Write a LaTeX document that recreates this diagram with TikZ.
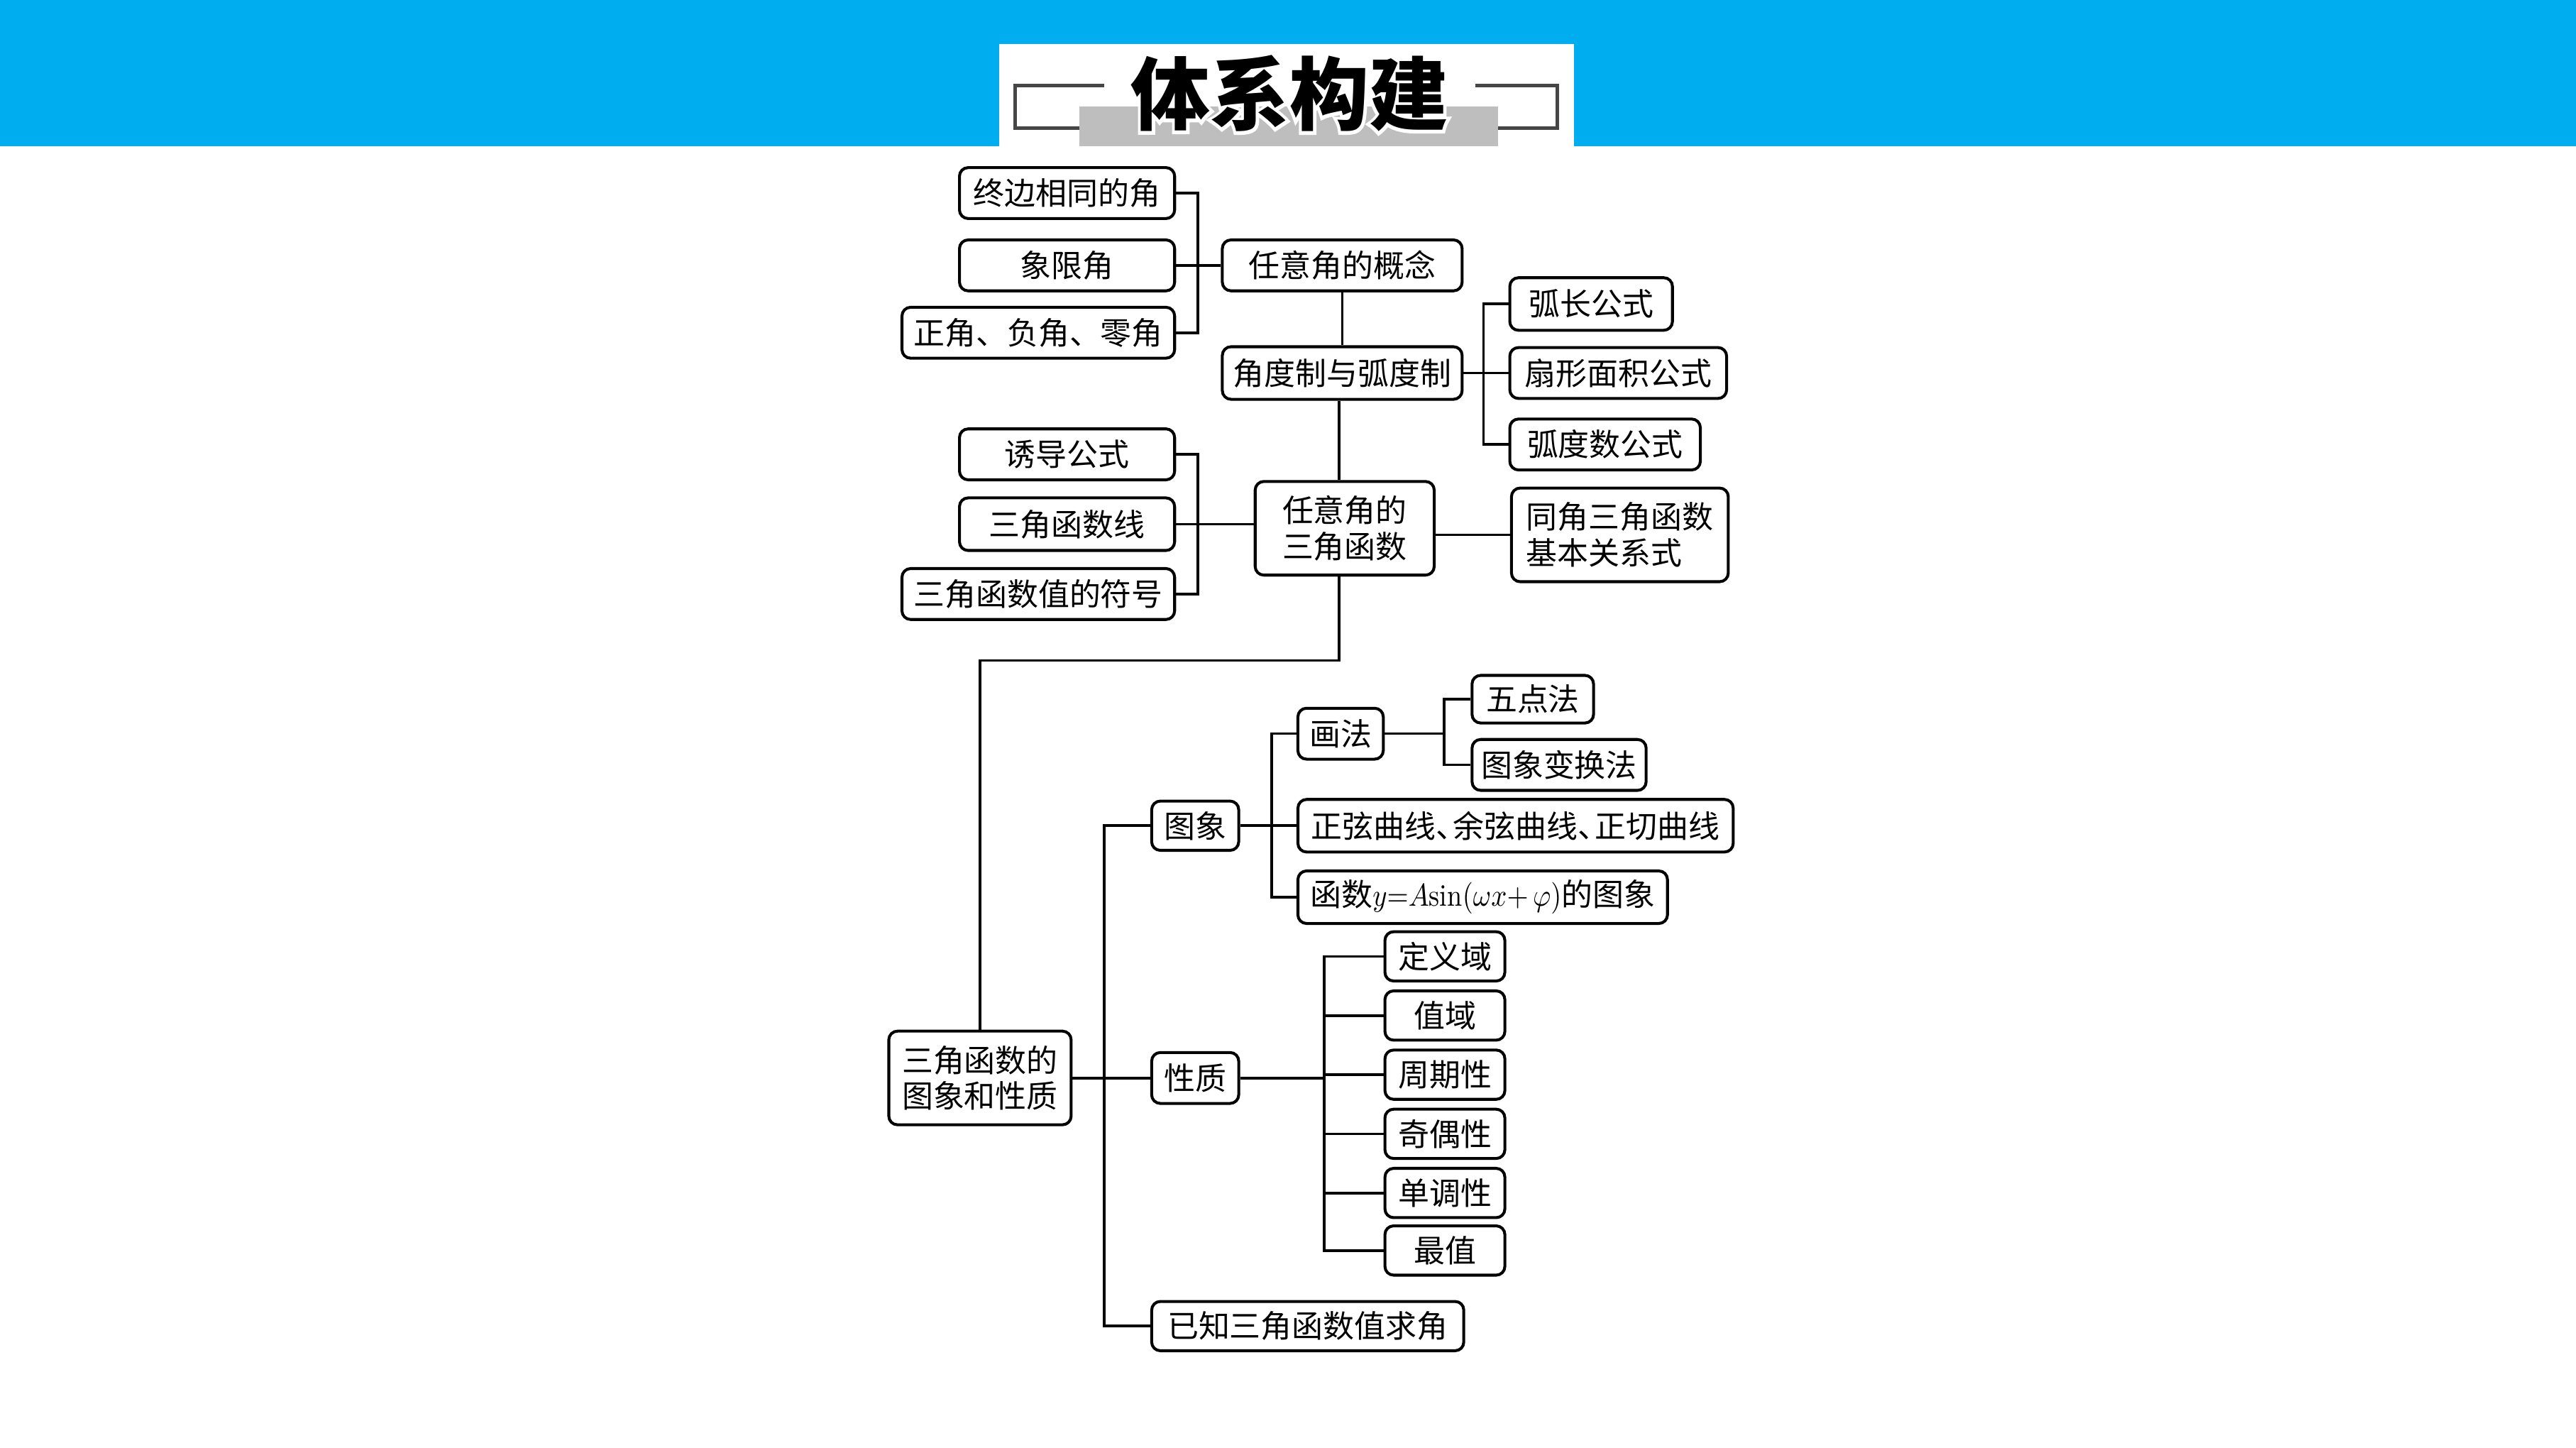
\documentclass[tikz,border=0pt]{standalone}
\usepackage{fontspec}
\newfontfamily\cjk{Noto Sans CJK SC}
\newfontfamily\cjkhalo[FakeBold=8]{Noto Sans CJK SC}
\definecolor{hdrblue}{RGB}{0,173,239}
\definecolor{bargray}{RGB}{190,190,190}
\definecolor{brk}{RGB}{70,70,70}
\begin{document}
\begin{tikzpicture}[x=0.02cm,y=-0.02cm,
  box/.style={draw=black, line width=1pt, rounded corners=3pt, inner sep=0pt,
    font=\cjk\fontsize{10.8}{12.5}\selectfont, align=center},
  conn/.style={line width=0.9pt, black},
  titleline/.style={line width=1.1pt, brk}]
\useasboundingbox (0,0) rectangle (1568,881);
\fill[white] (0,0) rectangle (1568,881);
% header
\fill[hdrblue] (0,0) rectangle (1568,89);
\fill[white] (608,27) rectangle (958,89);
\fill[bargray] (657,65) rectangle (912,89);
\draw[titleline] (672,52) -- (618,52) -- (618,78) -- (657,78);
\draw[titleline] (898,52) -- (948,52) -- (948,78) -- (912,78);
\node[black, inner sep=0pt] (title) at (785,57) {\fontsize{27.5}{30}\selectfont\rlap{\color{white}\cjkhalo\bfseries 体系构建}\cjk\bfseries 体系构建};

% upper part
\node[box, minimum width=2.62cm, minimum height=0.62cm] (zb) at (649.5,117.5) {终边相同的角};
\node[box, minimum width=2.62cm, minimum height=0.62cm] (xxj) at (649.5,161.5) {象限角};
\node[box, minimum width=3.32cm, minimum height=0.62cm] (zfl) at (632,202.5) {正角、负角、零角};
\node[box, minimum width=2.92cm, minimum height=0.62cm] (gainian) at (817,161.5) {任意角的概念};
\node[box, minimum width=2.92cm, minimum height=0.64cm] (jiaodu) at (817,227) {角度制与弧度制};
\node[box, minimum width=1.98cm, minimum height=0.64cm] (huchang) at (968.5,185) {弧长公式};
\node[box, minimum width=2.64cm, minimum height=0.62cm] (shanxing) at (985,227) {扇形面积公式};
\node[box, minimum width=2.32cm, minimum height=0.62cm] (hudushu) at (977,270.5) {弧度数公式};
\node[box, minimum width=2.18cm, minimum height=1.14cm] (rjsj) at (818.5,321.5) {任意角的\\三角函数};
\node[box, minimum width=2.62cm, minimum height=0.62cm] (yd) at (649.5,276.5) {诱导公式};
\node[box, minimum width=2.62cm, minimum height=0.64cm] (sjhsx) at (649.5,319) {三角函数线};
\node[box, minimum width=3.32cm, minimum height=0.62cm] (fh) at (632,361.5) {三角函数值的符号};
\node[box, minimum width=2.64cm, minimum height=1.14cm, align=left] (tongjiao) at (986,325.5) {同角三角函数\\基本关系式\kern1em};

% lower part
\node[box, minimum width=2.22cm, minimum height=1.14cm] (txxz) at (596.5,656) {三角函数的\\图象和性质};
\node[box, minimum width=1.06cm, minimum height=0.60cm] (tuxiang) at (727.5,502.5) {图象};
\node[box, minimum width=1.04cm, minimum height=0.62cm] (huafa) at (816,446.5) {画法};
\node[box, minimum width=1.48cm, minimum height=0.58cm] (wudian) at (933,425.5) {五点法};
\node[box, minimum width=2.12cm, minimum height=0.62cm] (bianhuan) at (949,465.5) {图象变换法};
\node[box, minimum width=5.30cm, minimum height=0.64cm] (zhengxian) at (922.5,502.5) {正弦曲线、\kern-.45em余弦曲线、\kern-.45em正切曲线};
\node[box, minimum width=4.50cm, minimum height=0.64cm] (hanshu) at (902.5,546) {函数\scalebox{0.87}[1]{$y{=}A\mathrm{sin}(\omega x{+}\,\varphi)$}的图象};
\node[box, minimum width=1.06cm, minimum height=0.62cm] (xingzhi) at (727.5,656) {性质};
\node[box, minimum width=1.46cm, minimum height=0.60cm] (dy) at (879.5,582) {定义域};
\node[box, minimum width=1.46cm, minimum height=0.60cm] (zy) at (879.5,618) {值域};
\node[box, minimum width=1.46cm, minimum height=0.60cm] (zq) at (879.5,654) {周期性};
\node[box, minimum width=1.46cm, minimum height=0.60cm] (jo) at (879.5,690) {奇偶性};
\node[box, minimum width=1.46cm, minimum height=0.60cm] (dd) at (879.5,726) {单调性};
\node[box, minimum width=1.46cm, minimum height=0.60cm] (zz) at (879.5,761) {最值};
\node[box, minimum width=3.80cm, minimum height=0.60cm] (yizhi) at (796,807) {已知三角函数值求角};

% junction coordinates
\coordinate (t6) at (729,0);
\coordinate (t5) at (903,0);
\coordinate (t1) at (672,0);
\coordinate (t2) at (774,0);
\coordinate (t3) at (879,0);
\coordinate (t4) at (806,0);
\coordinate (k1) at (815,402);

% connectors
\draw[conn] (zb.east) -- (zb.east -| t6) |- (zfl.east);
\draw[conn] (xxj.east) -- (gainian.west);
\draw[conn] (gainian.south) -- (jiaodu.north);
\draw[conn] (jiaodu.east) -- (shanxing.west);
\draw[conn] (huchang.west) -- (huchang.west -| t5) |- (hudushu.west);
\draw[conn] (jiaodu.south -| k1) -- (rjsj.north -| k1);
\draw[conn] (yd.east) -- (yd.east -| t6) |- (fh.east);
\draw[conn] (sjhsx.east) -- (sjhsx.east -| rjsj.west);
\draw[conn] (tongjiao.west) -- (tongjiao.west -| rjsj.east);
\draw[conn] (rjsj.south -| k1) -- (k1) -| (txxz.north);
\draw[conn] (txxz.east) -- (xingzhi.west);
\draw[conn] (tuxiang.west) -- (tuxiang.west -| t1) |- (yizhi.west);
\draw[conn] (tuxiang.east) -- (zhengxian.west);
\draw[conn] (huafa.west) -- (huafa.west -| t2) |- (hanshu.west);
\draw[conn] (huafa.east) -- (huafa.east -| t3);
\draw[conn] (wudian.west) -- (wudian.west -| t3) |- (bianhuan.west);
\draw[conn] (xingzhi.east) -- (xingzhi.east -| t4);
\draw[conn] (dy.west) -- (dy.west -| t4) |- (zz.west);
\draw[conn] (zy.west) -- (zy.west -| t4);
\draw[conn] (zq.west) -- (zq.west -| t4);
\draw[conn] (jo.west) -- (jo.west -| t4);
\draw[conn] (dd.west) -- (dd.west -| t4);
\end{tikzpicture}
\end{document}
